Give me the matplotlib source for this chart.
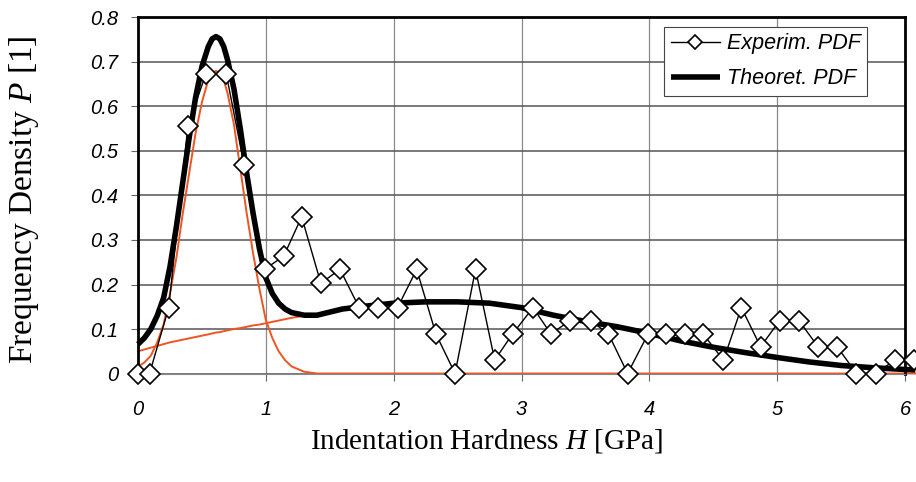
import matplotlib
matplotlib.use("Agg")
import matplotlib.pyplot as plt

plt.rcParams["mathtext.fontset"] = "custom"
plt.rcParams["mathtext.it"] = "Liberation Serif:italic"
plt.rcParams["mathtext.rm"] = "Liberation Serif"

exp_h = [0.0, 0.09, 0.24, 0.39, 0.53, 0.69, 0.83, 0.99, 1.14, 1.28, 1.43, 1.58,
         1.73, 1.88, 2.03, 2.18, 2.33, 2.48, 2.64, 2.79, 2.93, 3.09, 3.23, 3.38,
         3.54, 3.68, 3.83, 3.99, 4.13, 4.28, 4.42, 4.58, 4.72, 4.87, 5.02, 5.17,
         5.32, 5.47, 5.62, 5.77, 5.92, 6.07]
exp_p = [0.0, 0.0, 0.148, 0.556, 0.673, 0.673, 0.468, 0.234, 0.264, 0.352, 0.203, 0.234,
         0.148, 0.148, 0.148, 0.234, 0.089, 0.0, 0.234, 0.030, 0.089, 0.148, 0.089, 0.119,
         0.119, 0.089, 0.0, 0.089, 0.089, 0.089, 0.089, 0.030, 0.148, 0.060, 0.119, 0.119,
         0.060, 0.060, 0.0, 0.0, 0.030, 0.030]

# theoretical curves
theo_h = [0.0, 0.05, 0.1, 0.15, 0.2, 0.25, 0.3, 0.35, 0.4, 0.45, 0.5, 0.55, 0.58, 0.61,
          0.64, 0.67, 0.7, 0.75, 0.8, 0.85, 0.9, 0.95, 1.0, 1.05, 1.1, 1.15, 1.2, 1.3,
          1.4, 1.6, 1.8, 2.0, 2.25, 2.5, 2.75, 3.0, 3.25, 3.5, 3.75, 4.0, 4.25, 4.5,
          4.75, 5.0, 5.25, 5.5, 5.75, 6.0, 6.08]
theo_total = [0.066, 0.08, 0.10, 0.13, 0.17, 0.24, 0.33, 0.43, 0.53, 0.62, 0.69, 0.735, 0.752, 0.757,
              0.752, 0.735, 0.705, 0.64, 0.55, 0.45, 0.36, 0.28, 0.215, 0.18, 0.158, 0.145, 0.137, 0.131,
              0.131, 0.145, 0.152, 0.158, 0.161, 0.161, 0.158, 0.148, 0.131, 0.117, 0.105, 0.090, 0.073, 0.059,
              0.047, 0.036, 0.026, 0.018, 0.013, 0.009, 0.008]
phase1 = [0.015, 0.025, 0.04, 0.07, 0.11, 0.18, 0.26, 0.36, 0.45, 0.54, 0.61, 0.66, 0.675, 0.68,
          0.675, 0.66, 0.63, 0.56, 0.46, 0.36, 0.27, 0.19, 0.12, 0.08, 0.05, 0.03, 0.016, 0.004,
          0.0, 0.0, 0.0, 0.0, 0.0, 0.0, 0.0, 0.0, 0.0, 0.0, 0.0, 0.0, 0.0, 0.0,
          0.0, 0.0, 0.0, 0.0, 0.0, 0.0, 0.0]
phase2 = [0.05, 0.054, 0.058, 0.062, 0.066, 0.07, 0.073, 0.076, 0.079, 0.082, 0.085, 0.088, 0.090, 0.092,
          0.093, 0.095, 0.097, 0.10, 0.102, 0.105, 0.108, 0.11, 0.113, 0.116, 0.119, 0.122, 0.125, 0.13,
          0.131, 0.145, 0.152, 0.158, 0.161, 0.161, 0.158, 0.148, 0.131, 0.117, 0.105, 0.090, 0.073, 0.059,
          0.047, 0.036, 0.026, 0.018, 0.013, 0.009, 0.008]

fig = plt.figure(figsize=(9.16, 4.82), dpi=100)
ax = fig.add_axes([0.1507, 0.2251, 0.8373, 0.7386])

red = "#ee5522"
ax.plot(theo_h, phase1, color=red, lw=1.4, zorder=2, clip_on=False)
ax.plot(theo_h, phase2, color=red, lw=1.4, zorder=2, clip_on=False)
ax.plot(theo_h, theo_total, color="black", lw=4, zorder=3, clip_on=False,
        label="Theoret. PDF", solid_capstyle="butt", solid_joinstyle="round")
ax.plot(exp_h, exp_p, color="black", lw=1.0, marker="D", ms=10.5, mfc="white",
        mec="black", mew=1.2, zorder=4, clip_on=False, label="Experim. PDF")

ax.set_xlim(0, 6)
ax.set_ylim(0, 0.8)
ax.set_xticks(range(0, 7))
ax.set_yticks([0, 0.1, 0.2, 0.3, 0.4, 0.5, 0.6, 0.7, 0.8])
ax.set_yticklabels(["0", "0.1", "0.2", "0.3", "0.4", "0.5", "0.6", "0.7", "0.8"])

ax.grid(axis="y", color="#555555", lw=1.1)
ax.grid(axis="x", color="#8a8a8a", lw=0.9)
ax.set_axisbelow(True)

for s in ["left", "top", "right"]:
    ax.spines[s].set_linewidth(2)
ax.spines["bottom"].set_color("#888888")

for lab in ax.get_xticklabels() + ax.get_yticklabels():
    lab.set_fontfamily("Liberation Sans")
    lab.set_fontstyle("italic")
    lab.set_fontsize(14.5)
ax.tick_params(axis="x", length=5, pad=14, color="#666666")
ax.tick_params(axis="y", length=5, pad=9, color="#666666")

ax.set_xlabel("Indentation Hardness $H$ [GPa]", family="Liberation Serif", fontsize=21)
ax.set_ylabel("Frequency Density $P$ [1]", family="Liberation Serif", fontsize=24)
ax.xaxis.set_label_coords(0.454, -0.15)
ax.yaxis.set_label_coords(-0.127, 0.487)

handles, labels = ax.get_legend_handles_labels()
leg = ax.legend(handles[::-1], labels[::-1], loc="upper right",
                bbox_to_anchor=(0.9505, 0.9733), borderaxespad=0,
                fancybox=False, framealpha=1, edgecolor="#444444",
                prop=dict(family="Liberation Sans", style="italic", size=15.5),
                handlelength=2.3, markerscale=0.7,
                borderpad=0.3, labelspacing=0.65, handletextpad=0.3)
leg.get_frame().set_linewidth(0.8)

fig.savefig("out.png", dpi=100)
